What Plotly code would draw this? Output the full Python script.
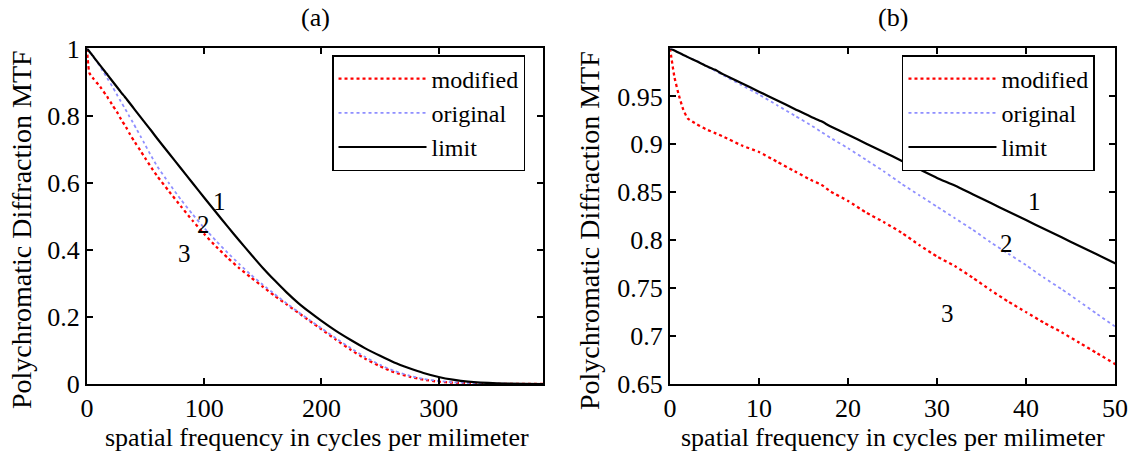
import plotly.graph_objects as go
from plotly.subplots import make_subplots

# spatial frequency (cycles/mm) shared by the three curves
freq = [0, 0.5, 1, 1.5, 2, 3, 4, 5, 6, 8,
        10, 12, 14, 16, 17, 18, 20, 22, 24, 26,
        28, 30, 32, 34, 36, 38, 40, 42, 44, 46,
        48, 50, 55, 60, 70, 80, 90, 100, 110, 120,
        130, 140, 150, 160, 170, 180, 190, 200, 212, 225,
        237, 250, 262, 275, 287, 300, 312, 325, 350, 389]

mtf_modified = [1.0, 0.97, 0.951, 0.936, 0.927, 0.921, 0.916, 0.912, 0.908, 0.899,
                0.892, 0.882, 0.872, 0.862, 0.858, 0.851, 0.841, 0.829, 0.819, 0.808,
                0.795, 0.783, 0.773, 0.761, 0.748, 0.736, 0.725, 0.714, 0.704, 0.693,
                0.682, 0.671, 0.644, 0.619, 0.574, 0.53, 0.487, 0.447, 0.41, 0.376,
                0.345, 0.317, 0.29, 0.263, 0.238, 0.213, 0.188, 0.163, 0.133, 0.102,
                0.076, 0.053, 0.035, 0.022, 0.013, 0.007, 0.004, 0.002, 0.0005, 0.0]

mtf_original = [1.0, 0.998, 0.9955, 0.993, 0.991, 0.987, 0.982, 0.977, 0.972, 0.962,
                0.952, 0.941, 0.930, 0.919, 0.913, 0.907, 0.896, 0.884, 0.872, 0.859,
                0.847, 0.835, 0.823, 0.811, 0.798, 0.786, 0.774, 0.761, 0.749, 0.736,
                0.723, 0.71, 0.678, 0.648, 0.598, 0.55, 0.506, 0.465, 0.427, 0.391,
                0.357, 0.325, 0.296, 0.268, 0.241, 0.215, 0.19, 0.166, 0.137, 0.107,
                0.081, 0.057, 0.039, 0.025, 0.015, 0.009, 0.005, 0.003, 0.001, 0.0]

mtf_limit = [1.0, 0.9978, 0.9955, 0.9933, 0.991, 0.9866, 0.982, 0.978, 0.973, 0.964,
             0.955, 0.946, 0.937, 0.928, 0.924, 0.919, 0.910, 0.901, 0.892, 0.883,
             0.874, 0.865, 0.857, 0.848, 0.839, 0.830, 0.821, 0.812, 0.803, 0.794,
             0.785, 0.776, 0.754, 0.731, 0.687, 0.643, 0.599, 0.555, 0.512, 0.469,
             0.427, 0.386, 0.346, 0.309, 0.274, 0.242, 0.214, 0.188, 0.159, 0.131,
             0.107, 0.084, 0.064, 0.047, 0.033, 0.021, 0.013, 0.007, 0.002, 0.0]

# curve numbers written next to the curves: (x, y) per panel
labels = ["1", "2", "3"]
label_pos_a = [(113, 0.543), (99, 0.475), (83.5, 0.39)]
label_pos_b = [(41, 0.84), (37.8, 0.797), (31.2, 0.724)]

FONT = "Liberation Serif, Times New Roman, serif"

fig = make_subplots(rows=1, cols=2)

series = [
    ("modified", mtf_modified, dict(color="#ff0000", width=2.3, dash="dot")),
    ("original", mtf_original, dict(color="#8f8fff", width=1.8, dash="dot")),
    ("limit", mtf_limit, dict(color="#000000", width=2.2)),
]
for col, leg in [(1, "legend"), (2, "legend2")]:
    for name, vals, line in series:
        fig.add_trace(go.Scatter(x=freq, y=vals, mode="lines", name=name,
                                 line=dict(line, shape="spline", smoothing=0.5),
                                 legend=leg), row=1, col=col)

axis_style = dict(showline=True, linecolor="black", linewidth=2, mirror="allticks",
                  ticks="inside", ticklen=6, tickwidth=1.5, tickcolor="black",
                  showgrid=False, zeroline=False, automargin=False,
                  tickfont=dict(family=FONT, size=26, color="black"))

fig.update_xaxes(axis_style)
fig.update_yaxes(axis_style)

fig.update_layout(
    xaxis=dict(domain=[0.0769, 0.4797], range=[0, 389], tickvals=[0, 100, 200, 300]),
    yaxis=dict(domain=[0.1504, 0.8927], range=[0, 1],
               tickvals=[0, 0.2, 0.4, 0.6, 0.8, 1],
               ticktext=["0", "0.2", "0.4", "0.6", "0.8", "1"]),
    xaxis2=dict(domain=[0.5919, 0.985], range=[0, 50], tickvals=[0, 10, 20, 30, 40, 50]),
    yaxis2=dict(domain=[0.1504, 0.8927], range=[0.65, 1.0],
                tickvals=[0.65, 0.7, 0.75, 0.8, 0.85, 0.9, 0.95],
                ticktext=["0.65", "0.7", "0.75", "0.8", "0.85", "0.9", "0.95"]),
)

leg_style = dict(bgcolor="white", bordercolor="black", borderwidth=1.5,
                 font=dict(family=FONT, size=24, color="black"),
                 itemwidth=88, tracegroupgap=0,
                 xanchor="left", yanchor="top", yref="paper", xref="paper")

fig.update_layout(
    width=1132, height=452, autosize=False,
    margin=dict(l=0, r=0, t=0, b=0),
    paper_bgcolor="white", plot_bgcolor="white",
    font=dict(family=FONT, color="black"),
    legend=dict(leg_style, x=0.2933, y=0.8783),
    legend2=dict(leg_style, x=0.7968, y=0.8783),
)

xlabel = "spatial frequency in cycles per milimeter"
ylabel = "Polychromatic Diffraction MTF"
annots = [
    dict(text="(a)", x=0.2783, y=0.9602, font=dict(size=26)),
    dict(text="(b)", x=0.7889, y=0.9602, font=dict(size=26)),
    dict(text=xlabel, x=0.2800, y=0.031, font=dict(size=26)),
    dict(text=xlabel, x=0.7889, y=0.031, font=dict(size=26)),
    dict(text=ylabel, x=0.0186, y=0.491, textangle=-90, font=dict(size=28)),
    dict(text=ylabel, x=0.5203, y=0.491, textangle=-90, font=dict(size=28)),
]
for a in annots:
    fig.add_annotation(xref="paper", yref="paper", showarrow=False,
                       xanchor="center", yanchor="middle", **a)

for (xs, ys), t in zip(label_pos_a, labels):
    fig.add_annotation(x=xs, y=ys, xref="x", yref="y", text=t, showarrow=False,
                       font=dict(size=25))
for (xs, ys), t in zip(label_pos_b, labels):
    fig.add_annotation(x=xs, y=ys, xref="x2", yref="y2", text=t, showarrow=False,
                       font=dict(size=25))

# the page body has a default 8px margin; drop it so the figure fills the window
fig.write_html("out.html", config={"displayModeBar": False},
               post_script="document.body.style.margin = '0';")
